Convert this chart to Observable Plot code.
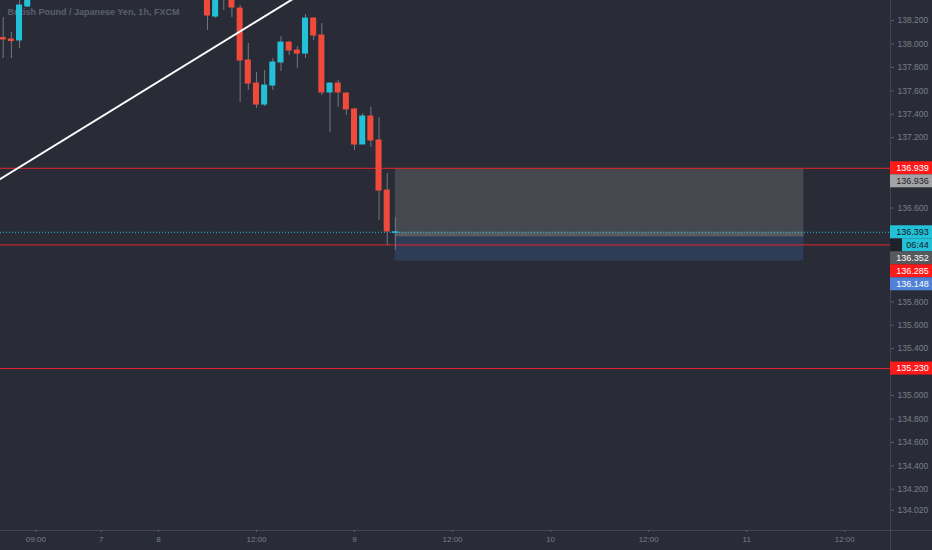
<!DOCTYPE html>
<html><head><meta charset="utf-8">
<script src="https://cdn.jsdelivr.net/npm/d3@7"></script>
<script src="https://cdn.jsdelivr.net/npm/@observablehq/plot@0.6"></script>
<style>html,body{margin:0;padding:0;background:#292c37;overflow:hidden;}</style>
</head><body><div id="chart"></div>
<script>
// ---------- data ----------
const title = "British Pound / Japanese Yen, 1h, FXCM";
// hourly bar index (0 = start of day 9)
const bars   = [-43,-42,-41,-40,-18,-17,-16,-15,-14,-13,-12,-11,-10,-9,-8,-7,-6,-5,-4,-3,-2,-1,0,1,2,3,4,5];
const opens  = [138.051,138.038,138.030,138.320,138.520,138.234,138.470,138.400,138.302,137.859,137.662,137.483,137.645,137.842,138.012,137.944,137.918,138.217,138.072,137.586,137.662,137.577,137.441,137.142,137.381,137.176,136.749,136.388];
const highs  = [138.226,138.098,138.420,138.520,138.560,138.460,138.520,138.430,138.330,138.004,137.756,137.773,137.876,138.063,138.020,137.978,138.251,138.225,138.174,137.671,137.688,137.586,137.450,137.406,137.458,137.372,136.895,136.519];
const lows   = [137.876,137.876,137.961,138.310,138.115,138.217,138.285,138.226,137.500,137.603,137.449,137.466,137.603,137.765,137.901,137.790,137.876,138.029,137.560,137.244,137.458,137.389,137.091,137.142,137.116,136.494,136.280,136.237];
const closes = [138.038,138.025,138.328,138.460,138.243,138.420,138.400,138.311,137.859,137.662,137.483,137.645,137.842,138.012,137.944,137.918,138.217,138.072,137.586,137.662,137.586,137.441,137.142,137.381,137.176,136.749,136.400,136.393];

const xTickBars   = [-39,-31,-24,-12,0,12,24,36,48,60];
const xTickLabels = ["09:00","7","8","12:00","9","12:00","10","12:00","11","12:00"];
const yTicks = [138.2,138.0,137.8,137.6,137.4,137.2,136.6,135.8,135.6,135.4,135.0,134.8,134.6,134.4,134.2,134.02];

// trend line endpoints
const trendBars   = [-44, -6];
const trendPrices = [136.82, 138.45];

// horizontal levels
const levelPrices = [136.939, 136.285, 135.230];
const lastPrice = 136.393;
const countdown = "06:44";

// short position tool
const posStartBar = 5, posEndBar = 55;
const stopPrice = 136.936, entryPrice = 136.352, targetPrice = 136.148;

// price tags on the right axis
const tagPrices = [136.939, 136.936, 136.393, 136.393, 136.352, 136.285, 136.148, 135.230];
const tagKinds  = ["level","stop","last","timer","entry","level","target","level"];

// ---------- layout ----------
const W = 932, H = 550, mR = 42, mB = 20;
const xDomain = [-43.33, 65.6];
const yDomain = [133.848, 138.371];
const xs = Plot.scale({x: {domain: xDomain, range: [0, W - mR]}});
const ys = Plot.scale({y: {domain: yDomain, range: [H - mB, 0]}});

const RED = "#f04a3a", CYAN = "#22c1d8", WICK = "#737782";
const tagStyle = {
  level:  {bg: "#ff1a1a", fg: "#ffffff"},
  stop:   {bg: "#a3a3a5", fg: "#1b1e26"},
  last:   {bg: "#22c1d8", fg: "#151820"},
  timer:  {bg: "#22c1d8", fg: "#151820"},
  entry:  {bg: "#58595c", fg: "#ffffff"},
  target: {bg: "#4f82d6", fg: "#ffffff"}
};

const candles = bars.map((b, i) => ({bar: b, open: opens[i], high: highs[i], low: lows[i], close: closes[i]}));

// place tags with simple collision avoidance (pixel space via the plot scale)
const TAG_H = 13;
let prev = -Infinity;
const tags = tagPrices.map((p, i) => {
  let py = ys.apply(p);
  if (py < prev + TAG_H) py = prev + TAG_H;
  prev = py;
  return {kind: tagKinds[i], price: p, py,
    yc: ys.invert(py), y1: ys.invert(py - TAG_H / 2), y2: ys.invert(py + TAG_H / 2),
    text: tagKinds[i] === "timer" ? countdown : p.toFixed(3)};
});
const xAxisEdge = xs.invert(W - mR), xRightEdge = xs.invert(W);
const xTimerStart = xs.invert(W - mR + 12);
const tickMap = new Map(xTickBars.map((b, i) => [b, xTickLabels[i]]));

const chart = Plot.plot({
  width: W, height: H,
  marginTop: 0, marginRight: mR, marginBottom: mB, marginLeft: 0,
  x: {type: "linear", domain: xDomain},
  y: {type: "linear", domain: yDomain},
  style: {background: "#292c37", color: "#7a7e89", fontFamily: "Liberation Sans, Arial, sans-serif", overflow: "visible"},
  marks: [
    Plot.text([title], {frameAnchor: "top-left", dx: 7, dy: 8, text: d => d, fill: "#5b606c", fontSize: 9, fontWeight: "bold"}),
    // position tool
    Plot.rect([0], {x1: posStartBar, x2: posEndBar, y1: stopPrice, y2: entryPrice, fill: "#45484f"}),
    Plot.rect([0], {x1: posStartBar, x2: posEndBar, y1: lastPrice, y2: entryPrice, fill: "#5a5c63"}),
    Plot.rect([0], {x1: posStartBar, x2: posEndBar, y1: entryPrice, y2: targetPrice, fill: "#2f3c58"}),
    // levels
    Plot.ruleY(levelPrices, {x1: xDomain[0], x2: xAxisEdge, stroke: "#e3232a", strokeWidth: 1}),
    Plot.ruleY([lastPrice], {x1: xDomain[0], x2: xAxisEdge, stroke: CYAN, strokeWidth: 1, strokeDasharray: "1,2"}),
    // candles
    Plot.ruleX(candles, {x: "bar", y1: "low", y2: "high", stroke: WICK, strokeWidth: 1, clip: true}),
    Plot.rect(candles, {x1: d => d.bar - 0.37, x2: d => d.bar + 0.37, y1: "open", y2: "close",
      fill: d => d.close >= d.open ? CYAN : RED, insetTop: -0.5, insetBottom: -0.5, clip: true}),
    // trend line
    Plot.line(trendBars.map((b, i) => ({bar: b, price: trendPrices[i]})), {x: "bar", y: "price", stroke: "#ffffff", strokeWidth: 2, clip: true}),
    // axes
    Plot.ruleY([yDomain[0]], {x1: xDomain[0], x2: xRightEdge, stroke: "#434651"}),
    Plot.ruleX([xAxisEdge], {y1: ys.invert(H), y2: ys.invert(0), stroke: "#434651"}),
    Plot.axisX({ticks: xTickBars, tickFormat: d => tickMap.get(d), label: null, tickSize: 2, tickPadding: 4, fontSize: 8, stroke: "#5d616c", fill: "#7a7e89"}),
    Plot.axisY({anchor: "right", ticks: yTicks, tickFormat: d => d.toFixed(3), label: null, tickSize: 3, tickPadding: 4, fontSize: 8.5, stroke: "#5d616c", fill: "#7a7e89"}),
    // price tags
    Plot.rect(tags.filter(t => t.kind === "timer"), {x1: xAxisEdge, x2: xTimerStart, y1: "y1", y2: "y2", fill: "#1f222a"}),
    Plot.rect(tags, {x1: d => d.kind === "timer" ? xTimerStart : xAxisEdge, x2: xRightEdge, y1: "y1", y2: "y2",
      fill: d => tagStyle[d.kind].bg}),
    Plot.text(tags, {x: d => d.kind === "timer" ? xs.invert(917) : xs.invert(912), y: "yc", text: "text",
      fill: d => tagStyle[d.kind].fg, fontSize: 9, textAnchor: "middle"})
  ]
});
document.getElementById("chart").appendChild(chart);
</script>
</body></html>
